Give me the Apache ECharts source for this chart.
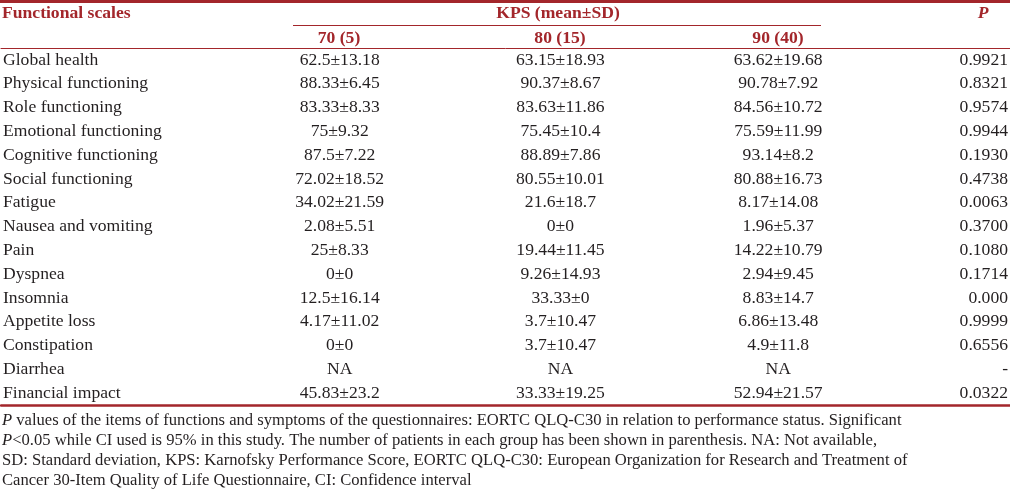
<!DOCTYPE html>
<html><head><meta charset="utf-8">
<script src="https://cdn.jsdelivr.net/npm/echarts@6/dist/echarts.min.js"></script>
<style>html,body{margin:0;padding:0;background:#fff}#c{width:1010px;height:492px}</style>
</head><body><div id="c"></div>
<script>
const scales = ["Global health","Physical functioning","Role functioning","Emotional functioning","Cognitive functioning","Social functioning","Fatigue","Nausea and vomiting","Pain","Dyspnea","Insomnia","Appetite loss","Constipation","Diarrhea","Financial impact"];
const groups = ["70 (5)","80 (15)","90 (40)"];
const mean70 = [62.5,88.33,83.33,75,87.5,72.02,34.02,2.08,25,0,12.5,4.17,0,null,45.83];
const sd70   = [13.18,6.45,8.33,9.32,7.22,18.52,21.59,5.51,8.33,0,16.14,11.02,0,null,23.2];
const mean80 = [63.15,90.37,83.63,75.45,88.89,80.55,21.6,0,19.44,9.26,33.33,3.7,3.7,null,33.33];
const sd80   = [18.93,8.67,11.86,10.4,7.86,10.01,18.7,0,11.45,14.93,0,10.47,10.47,null,19.25];
const mean90 = [63.62,90.78,84.56,75.59,93.14,80.88,8.17,1.96,14.22,2.94,8.83,6.86,4.9,null,52.94];
const sd90   = [19.68,7.92,10.72,11.99,8.2,16.73,14.08,5.37,10.79,9.45,14.7,13.48,11.8,null,21.57];
const pValues = ["0.9921","0.8321","0.9574","0.9944","0.1930","0.4738","0.0063","0.3700","0.1080","0.1714","0.000","0.9999","0.6556","-","0.0322"];

const RED = '#a3262b', INK = '#231f20', FONT = '"Liberation Serif","Times New Roman",serif', FS = 17.6, HFS = 17.6, FFS = 16.6;
const colX = [339, 560, 778];   // layout: centre of each KPS column
const pX = 1008;                // layout: right edge of P column

function cell(m, s) { return m == null ? 'NA' : (m + '±' + s); }
const groupData = [[mean70, sd70], [mean80, sd80], [mean90, sd90]];

const lbl = (align) => ({ show: true, position: 'inside', align: align, verticalAlign: 'middle', opacity: 1,
  color: INK, fontFamily: FONT, fontSize: FS, formatter: p => p.data.txt });

const textSeries = groupData.map((g, gi) => ({
  type: 'scatter', symbolSize: 2, itemStyle: { color: 'rgba(255,255,255,0)', opacity: 1 }, silent: true,
  data: scales.map((sc, i) => ({ value: [colX[gi], i], txt: cell(g[0][i], g[1][i]) })),
  label: lbl('center')
}));
textSeries.push({
  type: 'scatter', symbolSize: 2, itemStyle: { color: 'rgba(255,255,255,0)', opacity: 1 }, silent: true,
  data: scales.map((sc, i) => ({ value: [pX, i], txt: pValues[i] })),
  label: lbl('right')
});

const hdr = (t, x, y, align, extra) => ({ type: 'text', x: x, y: y,
  style: Object.assign({ text: t, fill: RED, font: 'bold ' + HFS + 'px ' + FONT, textAlign: align, textVerticalAlign: 'middle' }, extra || {}) });

const foot = [
  '{i|P} values of the items of functions and symptoms of the questionnaires: EORTC QLQ-C30 in relation to performance status. Significant',
  '{i|P}<0.05 while CI used is 95% in this study. The number of patients in each group has been shown in parenthesis. NA: Not available,',
  'SD: Standard deviation, KPS: Karnofsky Performance Score, EORTC QLQ-C30: European Organization for Research and Treatment of',
  'Cancer 30-Item Quality of Life Questionnaire, CI: Confidence interval'
];

const chart = echarts.init(document.getElementById('c'), null, { renderer: 'canvas' });
chart.setOption({
  animation: false,
  grid: { left: 0, right: 0, top: 48, bottom: 87 },
  xAxis: [
    { type: 'value', min: 0, max: 1010, position: 'top',
      axisLine: { show: true, onZero: false, lineStyle: { color: RED, width: 1 } },
      axisTick: { show: false }, axisLabel: { show: false }, splitLine: { show: false } },
    { type: 'value', min: 0, max: 1010, position: 'bottom',
      axisLine: { show: true, onZero: false, lineStyle: { color: RED, width: 2.5 } },
      axisTick: { show: false }, axisLabel: { show: false }, splitLine: { show: false } }
  ],
  yAxis: { type: 'category', data: scales, inverse: true,
    axisLine: { show: false }, axisTick: { show: false }, splitLine: { show: false },
    axisLabel: { inside: true, margin: 2, color: INK, fontFamily: FONT, fontSize: FS } },
  series: textSeries,
  graphic: [
    { type: 'rect', shape: { x: 0, y: 0, width: 1010, height: 3 }, style: { fill: RED } },
    { type: 'line', shape: { x1: 293, y1: 25.5, x2: 821, y2: 25.5 }, style: { stroke: RED, lineWidth: 1 } },
    hdr('Functional scales', 2, 13, 'left'),
    hdr('KPS (mean±SD)', 558, 13, 'center'),
    hdr('P', 983, 13, 'center', { font: 'italic bold ' + HFS + 'px ' + FONT }),
    hdr(groups[0], colX[0], 38, 'center'),
    hdr(groups[1], colX[1], 38, 'center'),
    hdr(groups[2], colX[2], 38, 'center'),
    { type: 'text', x: 2, y: 410, style: {
        text: foot.join('\n'), fill: INK, font: FFS + 'px ' + FONT, lineHeight: 20.3,
        textVerticalAlign: 'top',
        rich: { i: { fontStyle: 'italic', fontFamily: FONT, fontSize: FFS, fill: INK, lineHeight: 20.3 } } } }
  ]
});
</script></body></html>
